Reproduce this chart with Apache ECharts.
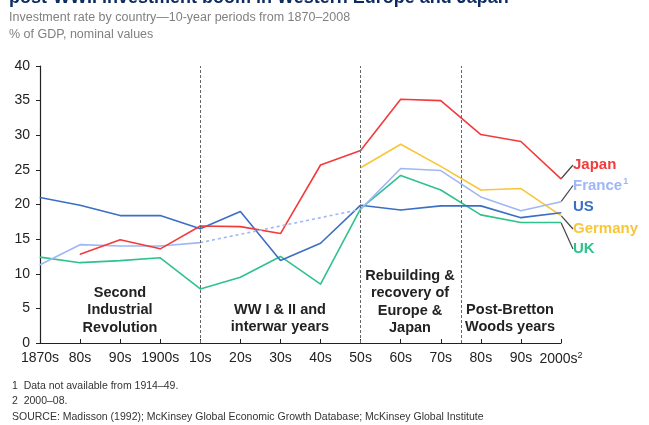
<!DOCTYPE html>
<html>
<head>
<meta charset="utf-8" />
<title>Investment rate by country</title>
<script src="https://cdn.jsdelivr.net/npm/echarts@6/dist/echarts.min.js"></script>
<style>
  html, body { margin: 0; padding: 0; background: #fff; }
  #main { width: 649px; height: 425px; }
</style>
</head>
<body>
<div id="main"></div>
<script type="text/javascript">
// decades on the x axis
var decades = ['1870s', '80s', '90s', '1900s', '10s', '20s', '30s', '40s', '50s', '60s', '70s', '80s', '90s', '2000s'];
var yTicks = [0, 5, 10, 15, 20, 25, 30, 35, 40];

// % of GDP (null = no data)
var japan   = [null, 12.8, 14.9, 13.6, 16.9, 16.8, 15.8, 25.7, 27.8, 35.2, 35.0, 30.1, 29.1, 23.7];
var france  = [11.3, 14.2, 14.0, 14.0, 14.5, null, null, null, 19.3, 25.2, 24.9, 21.1, 19.1, 20.4];
var franceGap = [null, null, null, null, 14.5, null, null, null, 19.3, null, null, null, null, null];
var us      = [21.0, 19.9, 18.4, 18.4, 16.5, 19.0, 11.9, 14.4, 19.9, 19.2, 19.8, 19.8, 18.1, 18.8];
var germany = [null, null, null, null, null, null, null, null, 25.3, 28.7, 25.5, 22.1, 22.3, 18.4];
var uk      = [12.4, 11.6, 11.9, 12.3, 7.8, 9.5, 12.5, 8.5, 19.4, 24.2, 22.1, 18.5, 17.4, 17.4];

// period separators (decade index)
var periodBreaks = [4, 8, 10.5];

var FONT = '"Liberation Sans", Arial, sans-serif';

var myChart = echarts.init(document.getElementById('main'));

function toPairs(arr, labelText) {
    var res = [];
    for (var i = 0; i < arr.length; i++) {
        if (arr[i] == null) { res.push([i, null]); continue; }
        if (labelText && i == arr.length - 1) {
            res.push({ value: [i, arr[i]], label: { show: true } });
        } else {
            res.push([i, arr[i]]);
        }
    }
    return res;
}

function lineSeries(name, arr, color, lblY, showGuide) {
    return {
        name: name,
        type: 'line',
        data: toPairs(arr, true),
        showSymbol: true,
        symbol: 'circle',
        symbolSize: 1,
        itemStyle: { color: color },
        lineStyle: { color: color, width: 1.6 },
        label: {
            show: false,
            position: 'right',
            formatter: name == 'France' ? '{n|France}{s|1}' : name,
            color: color,
            fontFamily: FONT,
            fontWeight: 'bold',
            fontSize: 15,
            rich: {
                n: { color: color, fontFamily: FONT, fontWeight: 'bold', fontSize: 15 },
                s: { color: color, fontFamily: FONT, fontWeight: 'bold', fontSize: 9, verticalAlign: 'top', padding: [0, 0, 8, 1] }
            }
        },
        labelLayout: { x: 573, y: lblY, align: 'left', verticalAlign: 'middle' },
        labelLine: { show: showGuide, length2: 0, lineStyle: { color: '#444', width: 1.2 } },
        emphasis: { disabled: true },
        animation: false
    };
}

var series = [
    lineSeries('UK', uk, '#2fc28b', 249, true),
    lineSeries('Germany', germany, '#f8c63a', 229, true),
    lineSeries('US', us, '#3b6fc6', 207, false),
    lineSeries('France', france, '#9fb7f6', 186, true),
    lineSeries('Japan', japan, '#f23b3b', 165, true),
    {
        name: 'France gap',
        type: 'line',
        data: toPairs(franceGap, false),
        connectNulls: true,
        showSymbol: false,
        lineStyle: { color: '#9fb7f6', width: 1.6, type: [3, 3] },
        emphasis: { disabled: true },
        animation: false,
        markLine: {
            silent: true,
            symbol: 'none',
            label: { show: false },
            lineStyle: { color: '#666', width: 1, type: [3, 2] },
            data: periodBreaks.map(function (b) { return { xAxis: b }; })
        }
    }
];

var periodTexts = [
    { x: 120, y: 284, text: 'Second\nIndustrial\nRevolution' },
    { x: 280, y: 301, text: 'WW I & II and\ninterwar years' },
    { x: 410, y: 267, text: 'Rebuilding &\nrecovery of\nEurope &\nJapan' },
    { x: 510, y: 301, text: 'Post-Bretton\nWoods years' }
];

var graphics = [
    { type: 'text', left: 9, top: -11, style: { text: 'post-WWII investment boom in Western Europe and Japan', fill: '#0d2b5e', font: 'bold 18px ' + FONT } },
    { type: 'text', left: 9, top: 11, style: { text: 'Investment rate by country\u201410-year periods from 1870\u20132008', fill: '#808080', font: '12.5px ' + FONT } },
    { type: 'text', left: 9, top: 28, style: { text: '% of GDP, nominal values', fill: '#808080', font: '12.5px ' + FONT } },
    { type: 'text', left: 12, top: 381, style: { text: '1  Data not available from 1914\u201349.', fill: '#333', font: '10.5px ' + FONT } },
    { type: 'text', left: 12, top: 396, style: { text: '2  2000\u201308.', fill: '#333', font: '10.5px ' + FONT } },
    { type: 'text', left: 12, top: 412, style: { text: 'SOURCE: Madisson (1992); McKinsey Global Economic Growth Database; McKinsey Global Institute', fill: '#333', font: '10.5px ' + FONT } }
];
periodTexts.forEach(function (p) {
    graphics.push({
        type: 'text', x: p.x, y: p.y,
        style: { text: p.text, fill: '#222', font: 'bold 14.5px ' + FONT, align: 'center', verticalAlign: 'top', lineHeight: 17.5 }
    });
});

option = {
    backgroundColor: '#fff',
    animation: false,
    grid: { left: 40, right: 88, top: 66, bottom: 82, containLabel: false },
    xAxis: {
        type: 'value',
        min: 0,
        max: decades.length - 1,
        interval: 1,
        splitLine: { show: false },
        axisLine: { lineStyle: { color: '#222', width: 1.2 } },
        axisTick: { inside: true, length: 4, lineStyle: { color: '#222' } },
        axisLabel: {
            color: '#222',
            fontFamily: FONT,
            fontSize: 14,
            margin: 8,
            formatter: function (v) {
                var s = decades[v];
                if (v == decades.length - 1) return '{a|' + s + '}{s|2}';
                return s;
            },
            rich: {
                a: { fontFamily: FONT, fontSize: 14, color: '#222' },
                s: { fontFamily: FONT, fontSize: 9, color: '#222', verticalAlign: 'top', padding: [0, 0, 8, 0] }
            }
        }
    },
    yAxis: {
        type: 'value',
        min: yTicks[0],
        max: yTicks[yTicks.length - 1],
        interval: 5,
        splitLine: { show: false },
        axisLine: { show: true, lineStyle: { color: '#222', width: 1.2 } },
        axisTick: { show: true, length: 4, lineStyle: { color: '#222' } },
        axisLabel: { color: '#222', fontFamily: FONT, fontSize: 14, margin: 10 }
    },
    graphic: graphics,
    series: series
};

myChart.setOption(option);
</script>
</body>
</html>
